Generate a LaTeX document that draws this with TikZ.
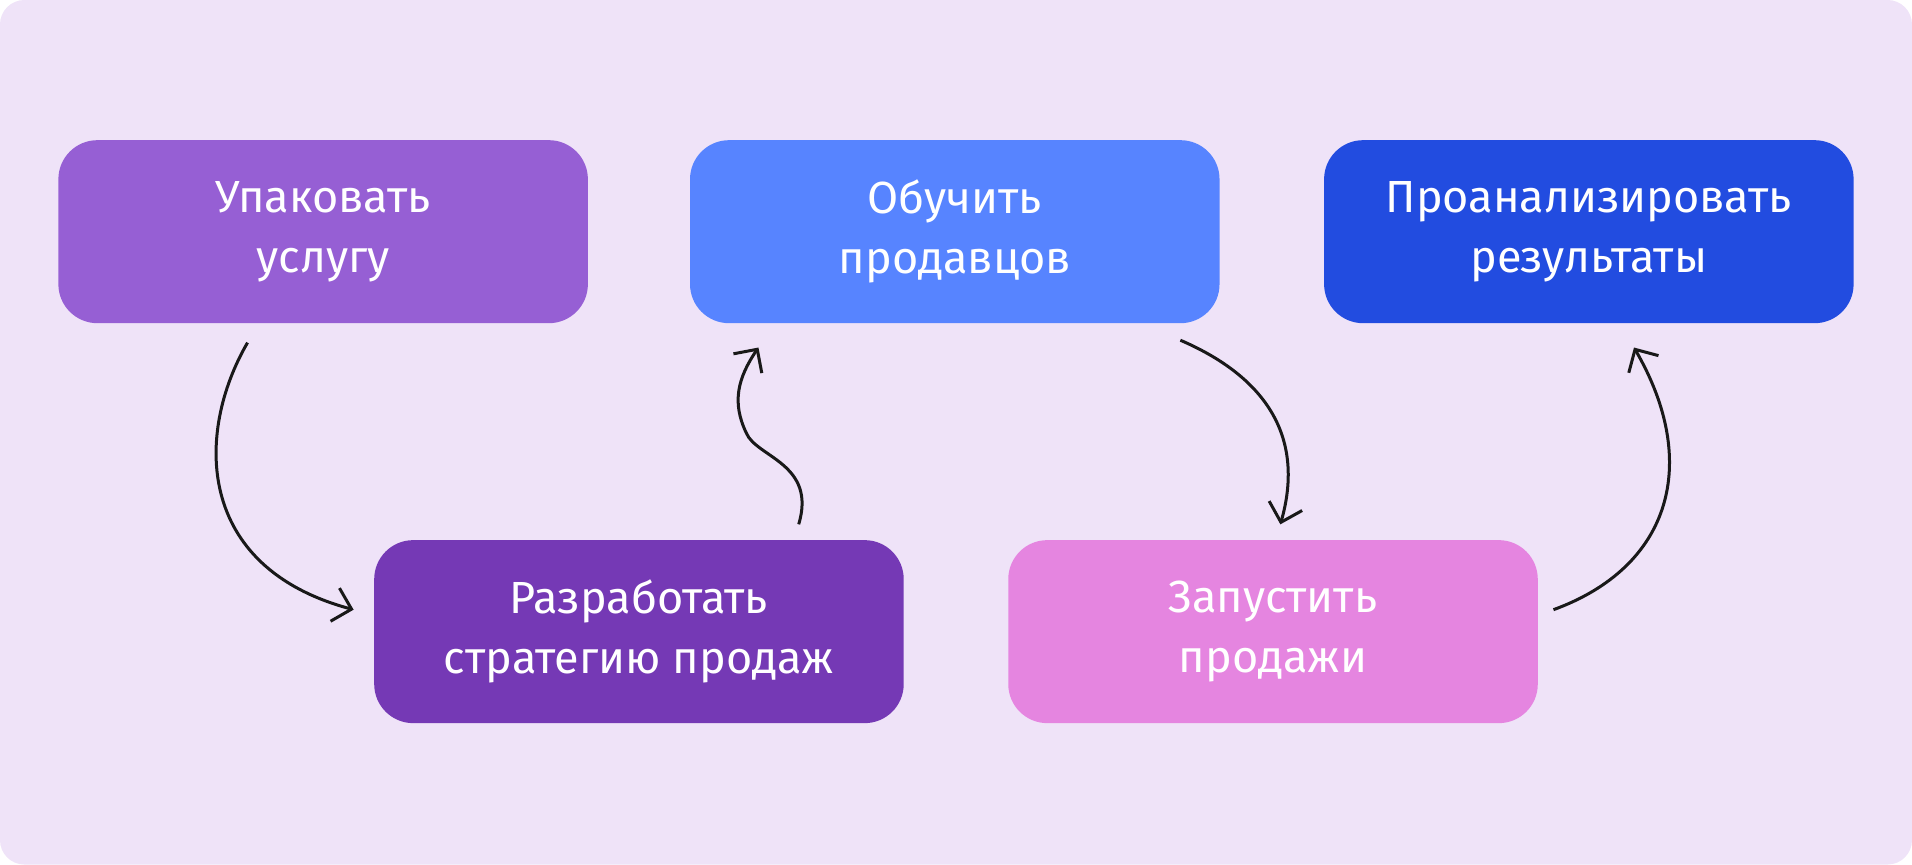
\documentclass[tikz,border=0pt]{standalone}
\usepackage{fontspec}
\setmainfont{Fira Sans}
\usetikzlibrary{arrows.meta}
\definecolor{bgc}{HTML}{EFE3F8}
\definecolor{cA}{HTML}{965FD4}
\definecolor{cB}{HTML}{5784FF}
\definecolor{cC}{HTML}{224CE0}
\definecolor{cD}{HTML}{7539B5}
\definecolor{cE}{HTML}{E585E0}
\begin{document}
\begin{tikzpicture}[x=0.01cm,y=-0.01cm]
\tikzstyle{stage} = [rounded corners=0.32cm, minimum width=4.34cm, minimum height=1.5cm, text=white, align=center, font=\fontsize{10.5}{14}\selectfont]
\tikzstyle{link} = [draw=black!90, line width=0.7pt, -{Straight Barb[length=4pt,width=8pt]}]

\fill[bgc, rounded corners=0.2cm] (0,0) rectangle (1568,709);
\useasboundingbox (0,0) rectangle (1568,709);

\node[stage, fill=cA] (A) at (265,190) {Упаковать\\услугу};
\node[stage, fill=cB] (B) at (783,190) {Обучить\\продавцов};
\node[stage, fill=cC] (C) at (1303,190) {Проанализировать\\результаты};
\node[stage, fill=cD] (D) at (524,518) {Разработать\\стратегию продаж};
\node[stage, fill=cE] (E) at (1044,518) {Запустить\\продажи};

\coordinate (a1) at (203,281);
\coordinate (a2) at (290,500);
\coordinate (b1) at (655,430);
\coordinate (b2) at (622,285);
\coordinate (c1) at (968,279);
\coordinate (c2) at (1050,430);
\coordinate (d1) at (1274,500);
\coordinate (d2) at (1340,285);

\path[link] (a1) .. controls (160,355) and (160,465) .. (a2);
\path[link] (b1) .. controls (670,380) and (620,375) .. (612,355) .. controls (600,330) and (605,310) .. (b2);
\path[link] (c1) .. controls (1040,310) and (1070,360) .. (c2);
\path[link] (d1) .. controls (1370,465) and (1395,380) .. (d2);
\end{tikzpicture}
\end{document}
